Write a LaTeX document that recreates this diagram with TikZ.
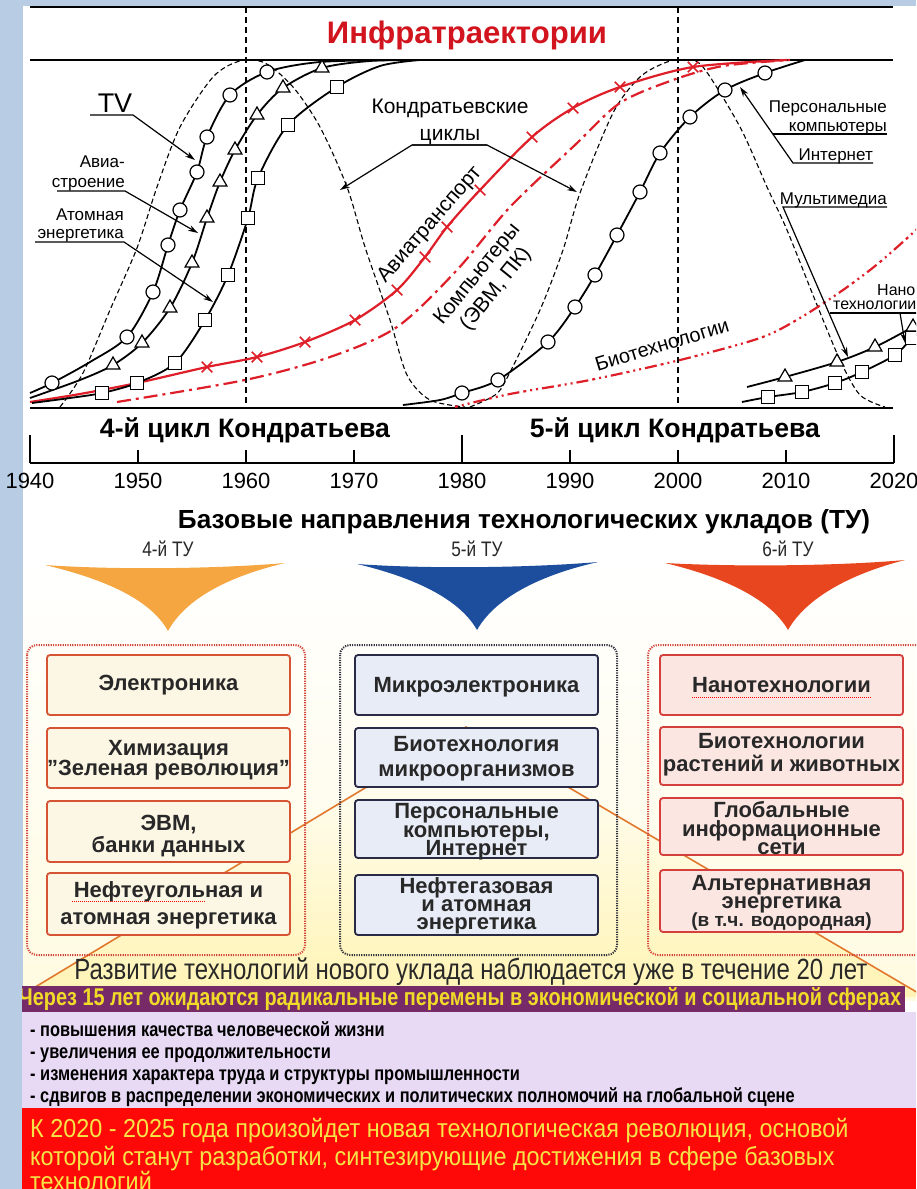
\documentclass[tikz,border=0pt]{standalone}
\usepackage{fontspec}
\setmainfont{Liberation Sans}
\newfontfamily\cond[FakeStretch=0.82]{Liberation Sans}
\newfontfamily\condb[FakeStretch=0.9]{Liberation Sans}
\usetikzlibrary{arrows.meta,shapes.geometric,shapes.misc}
\definecolor{bgblue}{RGB}{184,204,228}
\definecolor{titlered}{RGB}{210,20,30}
\definecolor{cred}{RGB}{222,30,40}
\definecolor{fanor}{RGB}{245,166,64}
\definecolor{fanbl}{RGB}{29,78,158}
\definecolor{fanrd}{RGB}{232,70,30}
\definecolor{grpred}{RGB}{210,70,60}
\definecolor{grpdk}{RGB}{50,50,60}
\definecolor{bfourfill}{RGB}{252,246,228}
\definecolor{bfourdraw}{RGB}{214,84,52}
\definecolor{bfivefill}{RGB}{232,236,246}
\definecolor{bfivedraw}{RGB}{40,42,70}
\definecolor{bsixfill}{RGB}{251,230,226}
\definecolor{bsixdraw}{RGB}{214,64,60}
\definecolor{btext}{RGB}{40,40,40}
\definecolor{orline}{RGB}{225,120,45}
\definecolor{paleyel}{RGB}{255,244,180}
\definecolor{palebg}{RGB}{255,251,225}
\definecolor{purp}{RGB}{118,42,104}
\definecolor{byel}{RGB}{240,220,40}
\definecolor{lav}{RGB}{232,218,245}
\definecolor{rtext}{RGB}{245,228,70}
\definecolor{redband}{RGB}{255,8,8}
\newcommand{\W}[2]{\resizebox{#1pt}{!}{#2}}
\newcommand{\fs}[1]{\fontsize{#1}{#1}\selectfont}
\begin{document}
\begin{tikzpicture}[x=1pt,y=-1pt,
  every node/.style={inner sep=0pt},
  lbl/.style={font=\fs{17}},
  lblb/.style={font=\fs{21}},
  yr/.style={font=\fs{22}},
  crv/.style={line width=1.8pt,black},
  rcrv/.style={line width=2.2pt,cred},
  bellc/.style={line width=1.1pt,black,dash pattern=on 5pt off 3pt},
  undr/.style={line width=1.2pt,black},
  leadr/.style={line width=1.2pt,black,-{Stealth[length=10pt,width=6pt]}},
  mcirc/.style={circle,draw,fill=white,line width=1.2pt,minimum size=14pt},
  mtri/.style={regular polygon,regular polygon sides=3,draw,fill=white,line width=1.2pt,minimum size=16pt},
  msq/.style={rectangle,draw,fill=white,line width=1.2pt,minimum size=12.5pt},
  mx/.style={cross out,draw=cred,line width=1.5pt,minimum size=9pt},
  grp/.style={rounded corners=10pt,line width=2pt,dash pattern=on 1.2pt off 1.2pt},
  bxfour/.style={draw=bfourdraw,fill=bfourfill,line width=1.8pt,rounded corners=3pt,minimum width=243pt},
  bxfive/.style={draw=bfivedraw,fill=bfivefill,line width=1.8pt,rounded corners=3pt,minimum width=243pt},
  bxsix/.style={draw=bsixdraw,fill=bsixfill,line width=1.8pt,rounded corners=3pt,minimum width=243pt},
  bt/.style={font=\fs{22}\bfseries,text=btext,anchor=base},
  tul/.style={font=\fs{21}\cond,text=btext},
  bul/.style={font=\fs{20}\cond\bfseries,anchor=base west},
  rtl/.style={font=\fs{26}\condb,text=rtext,anchor=base west}
]
\useasboundingbox (0,0) rectangle (916,1189);
\clip (0,0) rectangle (916,1189);
\fill[bgblue] (0,0) rectangle (916,1189);
\fill[white] (23,6) rectangle (916,1189);

% ---------- chart frame ----------
\draw[line width=1.6pt] (30,7) -- (893,7);
\draw[line width=1.6pt] (30,60) -- (893,60);
\draw[line width=1.6pt] (30,408) -- (893,408);
\draw[line width=1.3pt,dash pattern=on 6pt off 4pt] (246,7) -- (246,408);
\draw[line width=1.3pt,dash pattern=on 6pt off 4pt] (678,7) -- (678,408);
\node[font=\bfseries,text=titlered] (title) at (467,35) {\W{280}{Инфратраектории}};

% ---------- Kondratiev bells ----------
\draw[bellc] plot[smooth,tension=0.5] coordinates {(60,407) (83,373) (110,310) (137,248) (157,187) (180,127) (213,77) (240,61) (265,63) (293,87) (320,127) (347,187) (365,247) (390,320) (407,375) (430,400) (465,407)};
\draw[bellc] plot[smooth,tension=0.5] coordinates {(470,407) (495,395) (507,378) (540,310) (563,250) (580,193) (613,113) (640,77) (667,62) (685,60) (703,67) (740,127) (767,187) (787,230) (815,300) (840,360) (860,395) (885,407)};

% ---------- red curves ----------
\draw[rcrv,dash pattern=on 3pt off 4pt on 2pt off 4pt on 2pt off 4pt on 12pt off 4pt] plot[smooth,tension=0.5] coordinates {(455,407) (510,394) (590,380) (680,360) (760,338) (800,318) (843,290) (880,262) (925,222)};
\draw[rcrv,dash pattern=on 14pt off 5pt on 3pt off 5pt] plot[smooth,tension=0.5] coordinates {(117,402) (245,380) (330,357) (397,327) (457,270) (510,207) (575,145) (620,103) (673,80) (723,66) (790,60)};
\draw[rcrv] plot[smooth,tension=0.5] coordinates {(30,402) (80,394) (137,383) (207,367) (257,357) (305,342) (355,320) (397,290) (425,257) (447,227) (480,190) (532,137) (573,108) (620,87) (693,67) (787,60)};
\foreach \p [count=\i] in {(207,367),(257,357),(305,342),(355,320),(397,290),(425,257),(447,227),(480,190),(532,137),(573,108),(620,87),(693,67)}
  \node[mx] (ax\i) at \p {};

% ---------- black curves ----------
\draw[crv] plot[smooth,tension=0.5] coordinates {(30,393) (52,383) (90,362) (127,337) (153,292) (168,245) (180,210) (197,172) (207,137) (230,95) (267,72) (320,62) (400,60)};
\draw[crv] plot[smooth,tension=0.5] coordinates {(30,398) (80,380) (113,365) (142,343) (170,308) (192,263) (207,218) (220,182) (235,150) (257,115) (283,88) (322,68) (370,61) (420,60)};
\draw[crv] plot[smooth,tension=0.5] coordinates {(32,403) (70,398) (102,393) (137,383) (175,363) (205,320) (228,275) (248,218) (258,178) (288,125) (337,87) (380,66) (420,60)};
\draw[crv] plot[smooth,tension=0.5] coordinates {(403,405) (440,400) (462,393) (498,380) (548,342) (575,307) (595,275) (617,235) (640,192) (660,153) (690,117) (725,90) (765,73) (805,60)};
\draw[crv] plot[smooth,tension=0.5] coordinates {(747,387) (785,377) (837,362) (875,347) (913,327) (930,318)};
\draw[crv] plot[smooth,tension=0.5] coordinates {(742,402) (768,397) (802,392) (835,383) (862,372) (895,355) (912,338) (930,322)};

\foreach \p [count=\i] in {(52,383),(127,337),(153,292),(168,245),(180,210),(197,172),(207,137),(230,95),(267,72)}
  \node[mcirc] (tv\i) at \p {};
\foreach \p [count=\i] in {(113,365),(142,343),(170,308),(192,263),(207,218),(220,182),(235,150),(257,115),(283,88),(322,68)}
  \node[mtri] (av\i) at \p {};
\foreach \p [count=\i] in {(102,393),(137,383),(175,363),(205,320),(228,275),(248,218),(258,178),(288,125),(337,87)}
  \node[msq] (at\i) at \p {};
\foreach \p [count=\i] in {(462,393),(498,380),(548,342),(575,307),(595,275),(617,235),(640,192),(660,153),(690,117),(725,90),(765,73)}
  \node[mcirc] (pc\i) at \p {};
\foreach \p [count=\i] in {(785,377),(837,362),(875,347),(913,327)}
  \node[mtri] (nt\i) at \p {};
\foreach \p [count=\i] in {(768,397),(802,392),(835,383),(862,372),(895,355),(912,338)}
  \node[msq] (ns\i) at \p {};

% ---------- chart labels ----------
\node[font=\fs{27},anchor=base] (tvL) at (115,112) {TV};
\coordinate (tvA) at (90,115); \coordinate (tvB) at (133,115); \coordinate (tvT) at (195,160);
\draw[leadr] (tvA) -- (tvB) -- (tvT);

\node[lbl,anchor=base east] (avA) at (125,167) {Авиа-};
\node[lbl,anchor=base east] (avB) at (125,187) {строение};
\coordinate (avU1) at (57,191); \coordinate (avU2) at (125,191); \coordinate (avT) at (198,233);
\draw[leadr] (avU1) -- (avU2) -- (avT);

\node[lbl,anchor=base east] (atA) at (124,220) {Атомная};
\node[lbl,anchor=base east] (atB) at (124,238) {энергетика};
\coordinate (atU1) at (35,242); \coordinate (atU2) at (124,242); \coordinate (atT) at (213,302);
\draw[leadr] (atU1) -- (atU2) -- (atT);

\node[lblb,anchor=base] (kdA) at (450,113) {Кондратьевские};
\node[lblb,anchor=base] (kdB) at (450,140) {циклы};
\coordinate (kdU1) at (412,145); \coordinate (kdU2) at (487,145);
\coordinate (kdT1) at (340,190); \coordinate (kdT2) at (577,192);
\draw[leadr] (kdU2) -- (kdU1) -- (kdT1);
\draw[leadr] (kdU1) -- (kdU2) -- (kdT2);

\node[lbl,anchor=base east] (pkA) at (887,112) {Персональные};
\node[lbl,anchor=base east] (pkB) at (887,131) {компьютеры};
\coordinate (pkU1) at (773,134); \coordinate (pkU2) at (887,134);
\draw[undr] (pkU1) -- (pkU2);
\node[lbl,anchor=base east] (inL) at (873,160) {Интернет};
\coordinate (inU1) at (793,163); \coordinate (inU2) at (873,163); \coordinate (pkT) at (740,87);
\draw[leadr] (inU2) -- (inU1) -- (pkT);

\node[lbl,anchor=base east] (mmL) at (887,204) {Мультимедиа};
\coordinate (mmU1) at (783,207); \coordinate (mmU2) at (887,207); \coordinate (mmT) at (848,357);
\draw[leadr] (mmU2) -- (mmU1) -- (mmT);

\node[font=\fs{16},anchor=base west] (naA) at (877,295) {Нано};
\node[font=\fs{16},anchor=base west] (naB) at (833,309) {технологии};
\coordinate (naU1) at (830,313); \coordinate (naU2) at (925,313); \coordinate (naU3) at (900,313); \coordinate (naT) at (905,343);
\draw[undr] (naU1) -- (naU2);
\draw[leadr] (naU3) -- (naT);

\node[lblb,rotate=49] (aviat) at (430,225) {Авиатранспорт};
\node[lblb,rotate=51,align=center,font=\fontsize{21}{24}\selectfont] (comp) at (487,282) {Компьютеры\\(ЭВМ, ПК)};
\node[font=\fs{20},rotate=17] (bio) at (662,345) {Биотехнологии};

% ---------- axis ----------
\draw[line width=2pt] (30,463) -- (894,463);
\foreach \x in {30,462,894} \draw[line width=2pt] (\x,435) -- (\x,463);
\foreach \x in {138,246,354,570,678,786} \draw[line width=2pt] (\x,450) -- (\x,463);
\node (cyc4) at (245,430) {\W{290}{\bfseries 4-й цикл Кондратьева}};
\node (cyc5) at (675,430) {\W{290}{\bfseries 5-й цикл Кондратьева}};

% ---------- lower half background ----------
\shade[top color=white,bottom color=palebg] (23,560) rectangle (916,1000);
\shade[top color=white,bottom color=paleyel] (466,727) -- (925,997) -- (22,995) -- cycle;
\draw[orline,line width=1.6pt] (22,995) -- (466,727) -- (925,997);

\node (base) at (524,522) {\W{692}{\bfseries Базовые направления технологических укладов (ТУ)}};
\node[tul] (tu4) at (168,549) {4-й ТУ};
\node[tul] (tu5) at (477,549) {5-й ТУ};
\node[tul] (tu6) at (788,549) {6-й ТУ};

\fill[fanor] (45,565) .. controls (100,578) and (150,598) .. (168,631) .. controls (186,598) and (230,576) .. (285,563) .. controls (215,569) and (115,570) .. cycle;
\fill[fanbl] (357,564) .. controls (412,577) and (459,598) .. (477,630) .. controls (495,598) and (540,575) .. (598,562) .. controls (528,568) and (425,569) .. cycle;
\fill[fanrd] (665,563) .. controls (720,576) and (770,598) .. (788,630) .. controls (806,598) and (850,574) .. (905,560) .. controls (838,566) and (735,567) .. cycle;

% groups
\draw[grp,draw=grpred] (27,645) rectangle (305,955);
\draw[grp,draw=grpdk] (340,645) rectangle (617,955);
\draw[grp,draw=grpred] (648,645) rectangle (930,955);

% 4th boxes
\node[bxfour,minimum height=60pt] (b41) at (168.5,685) {};
\node[bxfour,minimum height=60pt] (b42) at (168.5,758) {};
\node[bxfour,minimum height=61pt] (b43) at (168.5,831.5) {};
\node[bxfour,minimum height=62pt] (b44) at (168.5,904) {};
\node[bt] (t41) at (168.5,690) {Электроника};
\node[bt] (t42a) at (168.5,755) {Химизация};
\node[bt] (t42b) at (168.5,775) {"Зеленая революция"};
\node[bt] (t43a) at (168.5,830) {ЭВМ,};
\node[bt] (t43b) at (168.5,852) {банки данных};
\node[bt] (t44a) at (168.5,897) {Нефтеугольная и};
\node[bt] (t44b) at (168.5,924) {атомная энергетика};
\draw[red,line width=1pt,dash pattern=on 1pt off 1pt] (72,901) -- (206,901);

% 5th boxes
\node[bxfive,minimum height=60pt] (b51) at (476.5,685) {};
\node[bxfive,minimum height=59pt] (b52) at (476.5,757.5) {};
\node[bxfive,minimum height=58pt] (b53) at (476.5,829) {};
\node[bxfive,minimum height=60pt] (b54) at (476.5,905) {};
\node[bt] (t51) at (476.5,692) {Микроэлектроника};
\node[bt] (t52a) at (476.5,751) {Биотехнология};
\node[bt] (t52b) at (476.5,776) {микроорганизмов};
\node[bt] (t53a) at (476.5,818) {Персональные};
\node[bt] (t53b) at (476.5,837) {компьютеры,};
\node[bt] (t53c) at (476.5,855) {Интернет};
\node[bt] (t54a) at (476.5,893) {Нефтегазовая};
\node[bt] (t54b) at (476.5,911) {и атомная};
\node[bt] (t54c) at (476.5,929) {энергетика};

% 6th boxes
\node[bxsix,minimum height=60pt] (b61) at (781.5,685) {};
\node[bxsix,minimum height=58pt] (b62) at (781.5,756) {};
\node[bxsix,minimum height=57pt] (b63) at (781.5,826.5) {};
\node[bxsix,minimum height=62pt] (b64) at (781.5,901) {};
\node[bt] (t61) at (781.5,692) {Нанотехнологии};
\draw[red,line width=0.8pt,dash pattern=on 1pt off 1pt] (692,697) -- (872,697);
\node[bt] (t62a) at (781.5,748) {Биотехнологии};
\node[bt] (t62b) at (781.5,771) {растений и животных};
\node[bt] (t63a) at (781.5,817) {Глобальные};
\node[bt] (t63b) at (781.5,836) {информационные};
\node[bt] (t63c) at (781.5,854) {сети};
\node[bt] (t64a) at (781.5,890) {Альтернативная};
\node[bt] (t64b) at (781.5,908) {энергетика};
\node[bt,font=\fs{19}\bfseries] (t64c) at (781.5,926) {(в т.ч. водородная)};

% ---------- bottom bands ----------
\node[text=btext] (dev) at (471,972) {\W{793}{\cond Развитие технологий нового уклада наблюдается уже в течение 20 лет}};
\fill[purp] (22,986) rectangle (905,1012);
\node[text=byel] (cherez) at (460,999) {\W{882}{\cond\bfseries Через 15 лет ожидаются радикальные перемены в экономической и социальной сферах}};
\fill[lav] (22,1012) rectangle (916,1108);
\node[bul] (bl1) at (30,1036) {- повышения качества человеческой жизни};
\node[bul] (bl2) at (30,1058) {- увеличения ее продолжительности};
\node[bul] (bl3) at (30,1080) {- изменения характера труда и структуры промышленности};
\node[bul] (bl4) at (30,1102) {- сдвигов в распределении экономических и политических полномочий на глобальной сцене};
\fill[redband] (22,1108) rectangle (916,1189);
\node[rtl] (rl1) at (30,1137) {К 2020 - 2025 года произойдет новая технологическая революция, основой};
\node[rtl] (rl2) at (30,1165) {которой станут разработки, синтезирующие достижения в сфере базовых};
\node[rtl] (rl3) at (30,1190) {технологий};

\fill[bgblue] (0,0) rectangle (22,462);
\fill[bgblue] (0,500) rectangle (22,1189);
\fill[bgblue] (0,0) rectangle (916,5);
\foreach \yy/\x in {1940/30,1950/138,1960/246,1970/354,1980/462,1990/570,2000/678,2010/786,2020/894}
  \node[yr] (yr\yy) at (\x,481) {\yy};
\end{tikzpicture}
\end{document}
